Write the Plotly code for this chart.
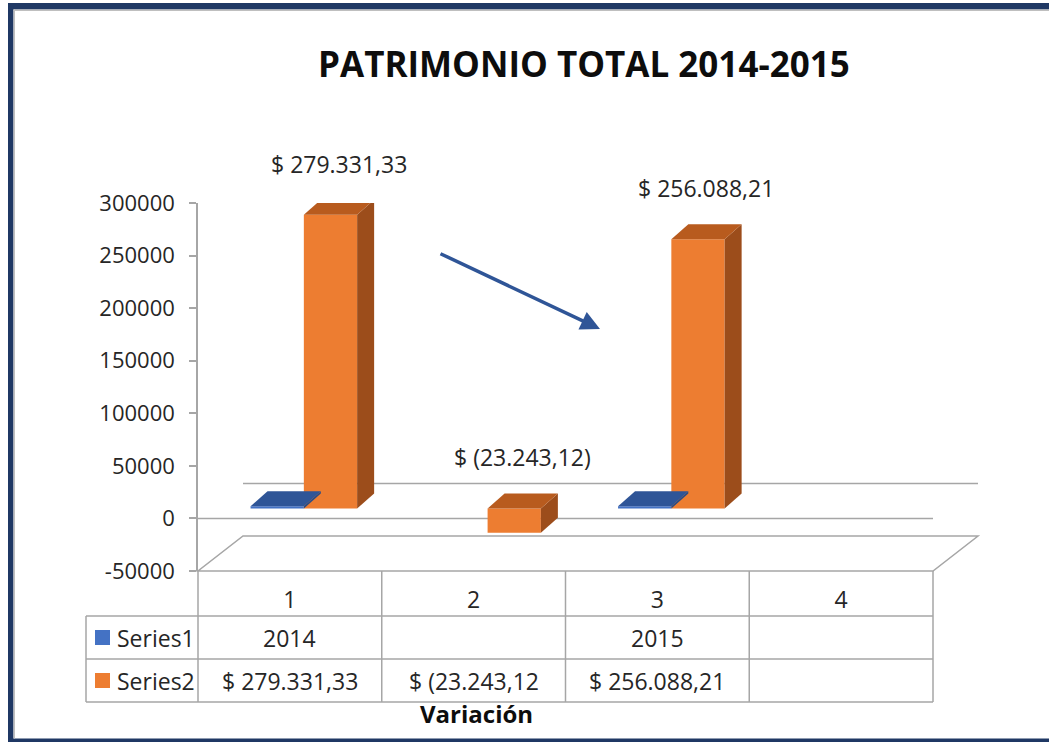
import plotly.graph_objects as go

# ---- data ----
categories = [1, 2, 3, 4]
tick_labels = ["1", "2", "3", "4"]
series_names = ["Series1", "Series2"]
series1 = [2014, None, 2015, None]
series2 = [279331.33, -23243.12, 256088.21, None]
series2_labels = ["$ 279.331,33", "$ (23.243,12)", "$ 256.088,21", ""]
table_row1 = ["2014", "", "2015", ""]
table_row2 = ["$ 279.331,33", "$ (23.243,12", "$ 256.088,21", ""]
title_text = "PATRIMONIO TOTAL 2014-2015"
xaxis_title = "Variación"
y_ticks = [-50000, 0, 50000, 100000, 150000, 200000, 250000, 300000]

# ---- styling ----
W, H = 1049, 742
L, R, T, B = 198, 116, 203, 171
PW, PH = W - L - R, H - T - B
YMIN, YMAX = -50000, 300000
XMIN, XMAX = 0.5, 4.5
ux = PW / (XMAX - XMIN)          # px per x unit
uy = PH / (YMAX - YMIN)          # px per y unit
FONT = "Open Sans, sans-serif"
FS = 23
FS_TICK = 22
TXT = "#262626"
GRID = "#A6A6A6"
NAVY = "#1F3864"
BAR_W = 0.29
OFFSETS = [-0.214, 0.076]
FRONT = ["#4472C4", "#ED7D31"]
TOP = ["#2F5597", "#B85B1E"]
SIDE = ["#2A4C84", "#9C4D1B"]
DX = 17 / ux
DY = 15 / uy
BASE = 10 / uy                   # 3D projection lift of the front faces


def px_to_paper_x(px):
    return (px - L) / PW


def px_to_paper_y(py):
    return (H - B - py) / PH


fig = go.Figure()

# 3D-ish faces computed from the data
for si, vals in enumerate([series1, series2]):
    for c, v in zip(categories, vals):
        if v is None:
            continue
        x0 = c + OFFSETS[si]
        x1 = x0 + BAR_W
        lo, hi = min(0, v) + BASE, max(0, v) + BASE
        fig.add_trace(go.Scatter(
            x=[x1, x1, x1 + DX, x1 + DX, x1],
            y=[lo, hi, hi + DY, lo + DY, lo],
            fill="toself", fillcolor=SIDE[si], mode="lines",
            line=dict(width=0), hoverinfo="skip", showlegend=False))
        fig.add_trace(go.Scatter(
            x=[x0, x1, x1 + DX, x0 + DX, x0],
            y=[hi, hi, hi + DY, hi + DY, hi],
            fill="toself", fillcolor=TOP[si], mode="lines",
            line=dict(width=0), hoverinfo="skip", showlegend=False))

# front faces
for si, vals in enumerate([series1, series2]):
    fig.add_trace(go.Bar(
        x=categories, y=vals, name=series_names[si], base=BASE,
        width=BAR_W, offset=OFFSETS[si],
        marker=dict(color=FRONT[si], line=dict(width=0)),
        showlegend=False))

shapes = []
line_style = dict(color=GRID, width=1.5)


def hline(py, px0, px1):
    shapes.append(dict(type="line", xref="paper", yref="paper",
                       x0=px_to_paper_x(px0), x1=px_to_paper_x(px1),
                       y0=px_to_paper_y(py), y1=px_to_paper_y(py),
                       line=line_style, layer="below"))


def vline(px, py0, py1):
    shapes.append(dict(type="line", xref="paper", yref="paper",
                       x0=px_to_paper_x(px), x1=px_to_paper_x(px),
                       y0=px_to_paper_y(py0), y1=px_to_paper_y(py1),
                       line=line_style, layer="below"))


# floor parallelogram
fx = [L, L + PW, L + PW + 45, L + 45]
fy = [H - B, H - B, H - B - 35, H - B - 35]
path = "M " + " L ".join(f"{px_to_paper_x(a)},{px_to_paper_y(b)}" for a, b in zip(fx, fy)) + " Z"
shapes.append(dict(type="path", xref="paper", yref="paper", path=path,
                   line=line_style, fillcolor="rgba(0,0,0,0)", layer="below"))

# back-wall zero gridline
shapes.append(dict(type="line", xref="paper", yref="y",
                   x0=px_to_paper_x(L + 45), x1=px_to_paper_x(L + PW + 45),
                   y0=35 / uy, y1=35 / uy, line=line_style, layer="below"))
# front zero line
shapes.append(dict(type="line", xref="paper", yref="y",
                   x0=0, x1=1, y0=0, y1=0, line=line_style, layer="below"))

# data table grid
row_y = [H - B, 616, 659, 702]
hline(row_y[1], 86, L + PW)
hline(row_y[2], 86, L + PW)
hline(row_y[3], 86, L + PW)
vline(86, row_y[1], row_y[3])
for k in range(5):
    vline(L + k * ux, row_y[0], row_y[3])


def rect(px0, py0, px1, py1, color):
    shapes.append(dict(type="rect", xref="paper", yref="paper",
                       x0=px_to_paper_x(px0), x1=px_to_paper_x(px1),
                       y0=px_to_paper_y(py0), y1=px_to_paper_y(py1),
                       fillcolor=color, line=dict(width=0), layer="above"))


# frame
rect(8, 3, W, 9.5, NAVY)
rect(8, 3, 13.5, 742, NAVY)
rect(8, 738.5, W, 742, NAVY)
rect(13.5, 9.5, W, 11, "#BFBFBF")
rect(13.5, 9.5, 15, 738.5, "#BFBFBF")

# legend keys in table
for ri, col in enumerate(FRONT):
    cy = (row_y[ri + 1] + row_y[ri + 2]) / 2
    rect(95, cy - 7.5, 110, cy + 7.5, col)

annotations = []
for ri, row in enumerate([table_row1, table_row2]):
    cy = (row_y[ri + 1] + row_y[ri + 2]) / 2
    for c, t in zip(categories, row):
        if t:
            annotations.append(dict(x=c, xref="x", y=px_to_paper_y(cy), yref="paper",
                                    xanchor="center", yanchor="middle",
                                    text=t, showarrow=False,
                                    font=dict(family=FONT, size=FS, color=TXT)))
    annotations.append(dict(x=px_to_paper_x(115), xref="paper", y=px_to_paper_y(cy),
                            yref="paper", xanchor="left", yanchor="middle",
                            text=series_names[ri],
                            showarrow=False, font=dict(family=FONT, size=FS, color=TXT)))

# data labels for series2
for c, v, t in zip(categories, series2, series2_labels):
    if v is None or not t:
        continue
    annotations.append(dict(x=c + OFFSETS[1] + BAR_W / 2 + DX / 2, xref="x",
                            y=max(v, 0) + BASE, yref="y", xanchor="center",
                            yanchor="bottom", yshift=33,
                            text=t, showarrow=False,
                            font=dict(family=FONT, size=FS, color=TXT)))

# title + axis title
annotations.append(dict(x=px_to_paper_x(584), xref="paper", y=px_to_paper_y(64),
                        yref="paper", xanchor="center", yanchor="middle",
                        text=f"<b>{title_text}</b>", showarrow=False,
                        font=dict(family=FONT, size=35, color="#0D0D0D")))
annotations.append(dict(x=px_to_paper_x(476), xref="paper", y=px_to_paper_y(713),
                        yref="paper", xanchor="center", yanchor="middle",
                        text=f"<b>{xaxis_title}</b>", showarrow=False,
                        font=dict(family=FONT, size=24, color="#0D0D0D")))

# trend arrow
annotations.append(dict(
    x=XMIN + (600 - L) / ux, y=YMIN + (H - B - 329) / uy, xref="x", yref="y",
    ax=XMIN + (439 - L) / ux, ay=YMIN + (H - B - 253) / uy, axref="x", ayref="y",
    showarrow=True, arrowhead=2, arrowsize=1.1, arrowwidth=3.5,
    arrowcolor="#2F5597", text=""))

fig.update_layout(
    width=W, height=H,
    margin=dict(l=L, r=R, t=T, b=B, pad=0),
    paper_bgcolor="white", plot_bgcolor="white",
    barmode="overlay", showlegend=False,
    shapes=shapes, annotations=annotations,
    font=dict(family=FONT, size=FS, color=TXT),
    xaxis=dict(range=[XMIN, XMAX], tickvals=categories, ticktext=tick_labels,
               showgrid=False, zeroline=False, showline=False, ticks="",
               ticklabelstandoff=13, tickfont=dict(size=FS, color=TXT),
               fixedrange=True),
    yaxis=dict(range=[YMIN, YMAX], tickvals=y_ticks, ticktext=[str(v) for v in y_ticks],
               showgrid=False, zeroline=False, showline=True, linecolor=GRID,
               linewidth=1.5, ticks="outside", ticklen=7, tickcolor=GRID,
               tickwidth=1.5, ticklabelstandoff=10,
               tickfont=dict(size=FS_TICK, color=TXT), fixedrange=True),
)

fig.write_html("out.html", config={"displayModeBar": False},
               post_script="document.body.style.margin='0';")
